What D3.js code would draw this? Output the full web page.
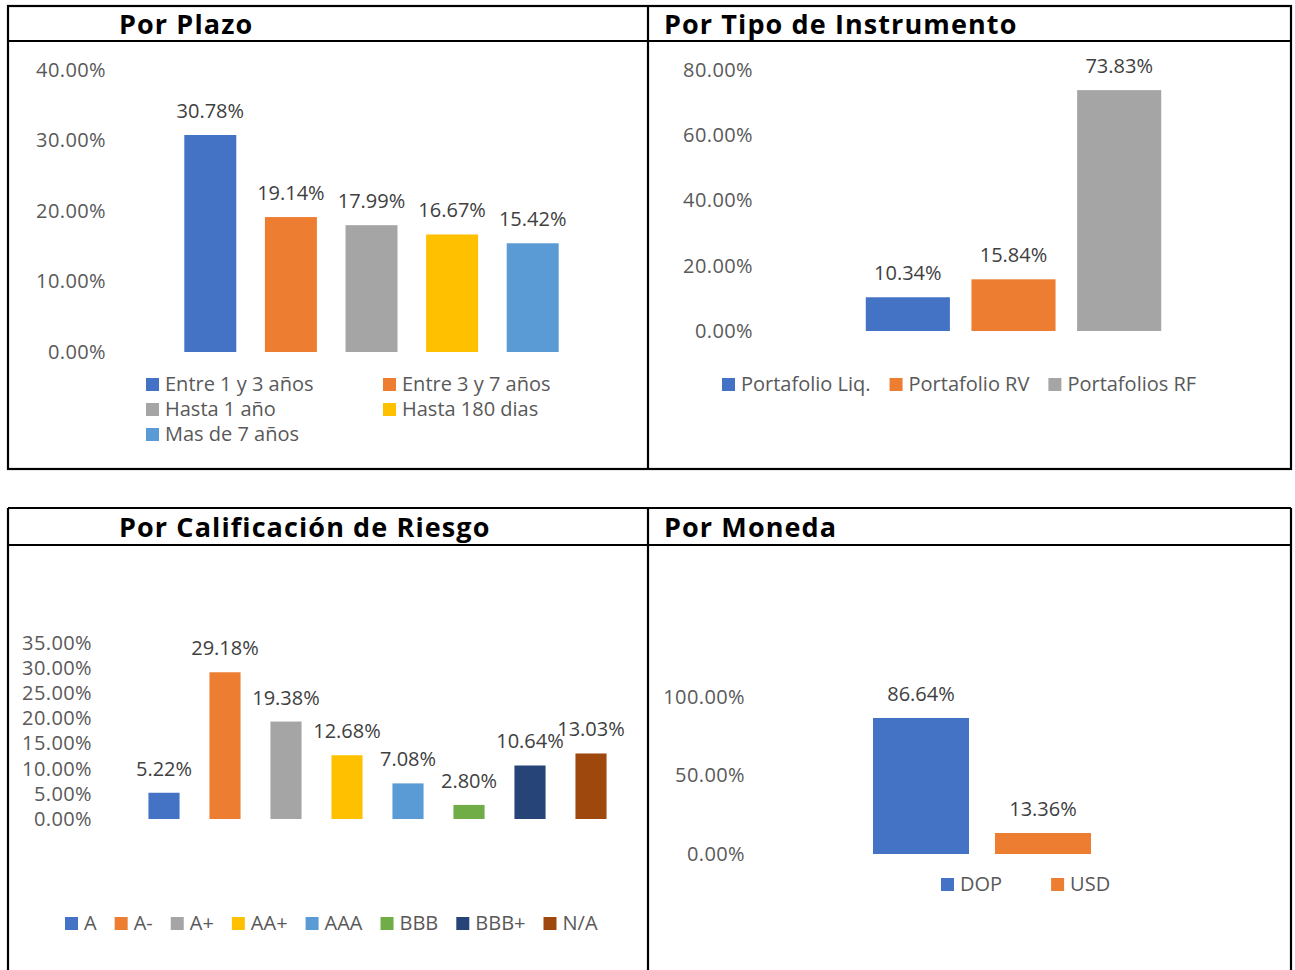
<!DOCTYPE html>
<html>
<head>
<meta charset="utf-8">
<script src="https://cdn.jsdelivr.net/npm/d3@7"></script>
<style>
  body { margin: 0; background: #fff; }
  svg { display: block; }
</style>
</head>
<body>
<div id="chart"></div>
<script>
// data
const plazoCats = ['Entre 1 y 3 años','Entre 3 y 7 años','Hasta 1 año','Hasta 180 dias','Mas de 7 años'];
const plazoVals = [30.78, 19.14, 17.99, 16.67, 15.42];
const plazoTicks = [0, 10, 20, 30, 40];

const tipoCats = ['Portafolio Liq.','Portafolio RV','Portafolios RF'];
const tipoVals = [10.34, 15.84, 73.83];
const tipoTicks = [0, 20, 40, 60, 80];

const califCats = ['A','A-','A+','AA+','AAA','BBB','BBB+','N/A'];
const califVals = [5.22, 29.18, 19.38, 12.68, 7.08, 2.80, 10.64, 13.03];
const califTicks = [0, 5, 10, 15, 20, 25, 30, 35];

const monedaCats = ['DOP','USD'];
const monedaVals = [86.64, 13.36];
const monedaTicks = [0, 50, 100];

const colors = ['#4472C4','#ED7D31','#A5A5A5','#FFC000','#5B9BD5','#70AD47','#264478','#9E480E'];

const width = 1295, height = 970;
const FONT = '"Open Sans", Lato, sans-serif';

const svg = d3.select('#chart').append('svg')
    .attr('width', width).attr('height', height);

// table frames
const frame = svg.append('g')
    .attr('fill','none').attr('stroke','#000').attr('stroke-width',2.2);
frame.append('rect').attr('x',8).attr('y',6).attr('width',1283).attr('height',463);
frame.append('line').attr('x1',8).attr('x2',1291).attr('y1',41).attr('y2',41);
frame.append('line').attr('x1',648).attr('x2',648).attr('y1',6).attr('y2',469);

frame.append('line').attr('x1',8).attr('x2',1291).attr('y1',508).attr('y2',508);
frame.append('line').attr('x1',8).attr('x2',1291).attr('y1',545).attr('y2',545);
frame.append('line').attr('x1',8).attr('x2',8).attr('y1',508).attr('y2',975);
frame.append('line').attr('x1',648).attr('x2',648).attr('y1',508).attr('y2',975);
frame.append('line').attr('x1',1291).attr('x2',1291).attr('y1',508).attr('y2',975);

// titles
const titles = [
    {t:'Por Plazo', x:119, y:34},
    {t:'Por Tipo de Instrumento', x:664, y:34},
    {t:'Por Calificación de Riesgo', x:119, y:537},
    {t:'Por Moneda', x:664, y:537}
];
svg.selectAll('.title').data(titles).join('text')
    .attr('class','title')
    .attr('x', d => d.x).attr('y', d => d.y)
    .style('font-family', FONT).style('font-weight', 700)
    .style('font-size','27px').style('letter-spacing','1.1px')
    .attr('fill','#000')
    .text(d => d.t);

function fmt(v){ return v.toFixed(2) + '%'; }

function drawChart(o){
    const g = svg.append('g');
    const x = d3.scaleBand().domain(o.cats).range(o.xr)
        .paddingInner(o.pad).paddingOuter(o.pad/2);
    const y = d3.scaleLinear().domain([0, d3.max(o.ticks)]).range(o.yr);

    // y axis labels
    const ax = g.append('g')
        .attr('transform','translate(' + o.axisX + ',0)')
        .call(d3.axisLeft(y).tickValues(o.ticks).tickFormat(d => d.toFixed(2) + '%').tickSize(0).tickPadding(0));
    ax.select('.domain').remove();
    ax.selectAll('text')
        .style('font-family', FONT).style('font-size', o.fs + 'px')
        .style('letter-spacing','0.4px')
        .attr('fill','#595959');

    // bars
    g.selectAll('.bar').data(o.vals).join('rect')
        .attr('x', (d,i) => x(o.cats[i]))
        .attr('width', x.bandwidth())
        .attr('y', d => y(d))
        .attr('height', d => y(0) - y(d))
        .attr('fill', (d,i) => colors[i]);

    // data labels
    g.selectAll('.lbl').data(o.vals).join('text')
        .attr('x', (d,i) => x(o.cats[i]) + x.bandwidth()/2)
        .attr('y', d => y(d) - 17)
        .attr('text-anchor','middle')
        .style('font-family', FONT).style('font-size', o.fs + 'px')
        .attr('fill','#404040')
        .text(d => fmt(d));

    // legend
    const lg = g.append('g');
    const items = lg.selectAll('.leg').data(o.cats).join('g');
    items.append('rect')
        .attr('width',13).attr('height',13).attr('y',-13)
        .attr('fill', (d,i) => colors[i]);
    items.append('text')
        .attr('x',19).attr('y',0)
        .style('font-family', FONT).style('font-size', o.fs + 'px')
        .attr('fill','#595959')
        .text(d => d);

    if (o.legendGrid) {
        items.attr('transform', (d,i) => 'translate(' + o.legendGrid.cols[i % 2] + ',' + (o.legendGrid.y0 + Math.floor(i/2)*25) + ')');
    } else {
        let cx = 0;
        const pos = [];
        items.each(function(){
            pos.push(cx);
            const w = d3.select(this).select('text').node().getComputedTextLength();
            cx += 19 + w + o.legendGap;
        });
        items.attr('transform', (d,i) => 'translate(' + (o.legendX + pos[i]) + ',' + o.legendY + ')');
    }
}

drawChart({cats: plazoCats, vals: plazoVals, ticks: plazoTicks,
    xr: [170, 573], pad: 0.355, yr: [352, 70], axisX: 106, fs: 20,
    legendGrid: {cols: [146, 383], y0: 391}});

drawChart({cats: tipoCats, vals: tipoVals, ticks: tipoTicks,
    xr: [855, 1172], pad: 0.204, yr: [331, 70], axisX: 753, fs: 20,
    legendX: 722, legendY: 391, legendGap: 19});

drawChart({cats: califCats, vals: califVals, ticks: califTicks,
    xr: [133.5, 621.5], pad: 0.49, yr: [819, 643], axisX: 92, fs: 20,
    legendX: 65, legendY: 930, legendGap: 18});

drawChart({cats: monedaCats, vals: monedaVals, ticks: monedaTicks,
    xr: [860, 1104], pad: 0.213, yr: [854, 697], axisX: 745, fs: 20,
    legendX: 941, legendY: 891, legendGap: 49});
</script>
</body>
</html>
